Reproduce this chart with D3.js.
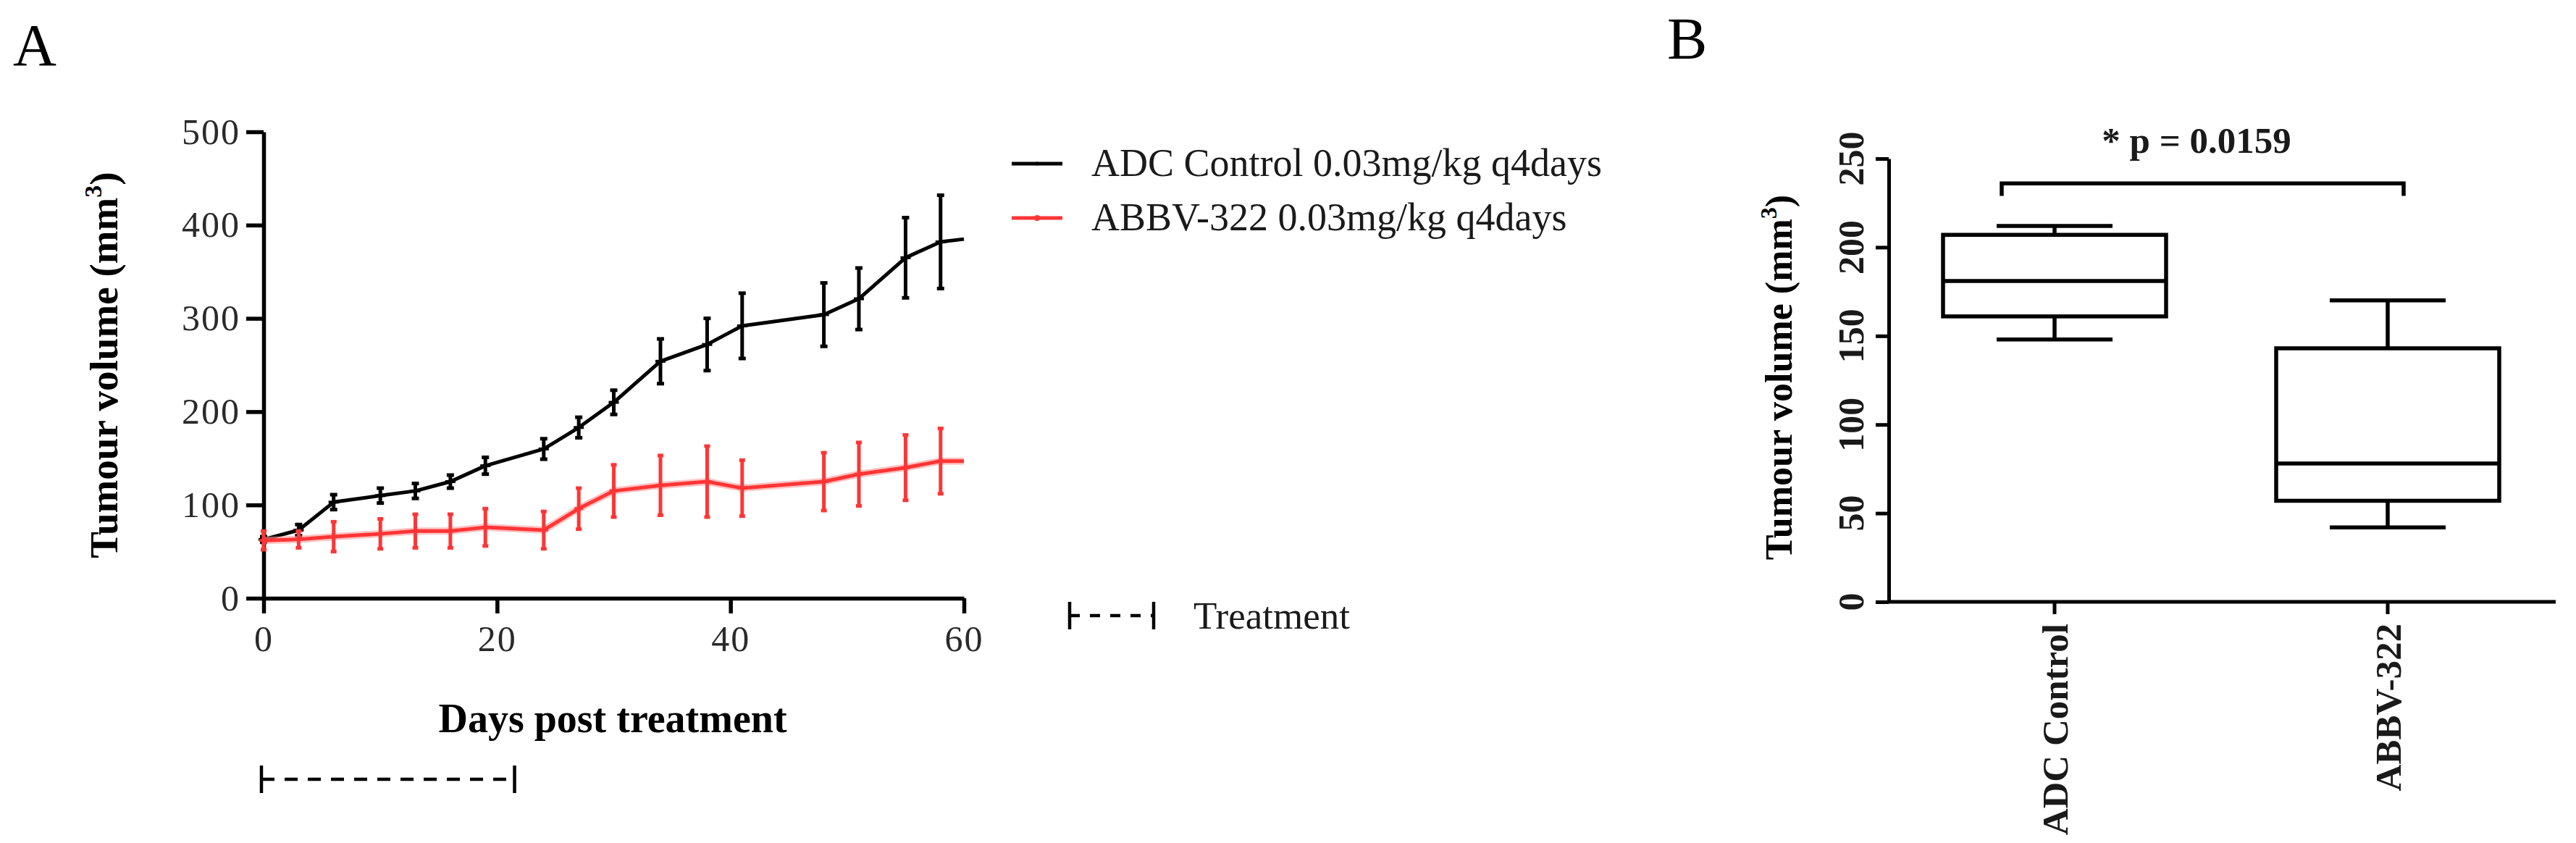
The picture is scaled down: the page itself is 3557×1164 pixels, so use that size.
<!DOCTYPE html>
<html><head><meta charset="utf-8">
<script src="https://cdn.jsdelivr.net/npm/d3@7"></script>
<style>body{margin:0;background:#fff} svg{display:block}</style>
</head><body>
<svg id="c" width="3557" height="1164"></svg>
<script>
// ---------- Panel A data ----------
const days      = [0, 3, 6, 10, 13, 16, 19, 24, 27, 30, 34, 38, 41, 48, 51, 55, 58, 60];
const adcMean   = [63, 73, 103, 110, 115, 125, 142, 160, 183, 210, 254, 272, 292, 304, 321, 365, 382, 385];
const adcErr    = [3, 6, 8, 8, 8, 7, 9, 11, 11, 13, 24, 28, 35, 34, 33, 43, 50, 0];
const abbvMean  = [62, 63, 66, 69, 72, 72, 76, 73, 96, 115, 121, 125, 118, 125, 133, 140, 147, 147];
const abbvErr   = [10, 9, 16, 16, 18, 18, 20, 20, 22, 28, 32, 38, 30, 31, 34, 35, 35, 0];
const yTicksA   = [0, 100, 200, 300, 400, 500];
const xTicksA   = [0, 20, 40, 60];
const treatmentDays = [0, 21.5];
const seriesNames = ["ADC Control 0.03mg/kg q4days", "ABBV-322 0.03mg/kg q4days"];
// ---------- Panel B data ----------
const boxCats = ["ADC Control", "ABBV-322"];
const boxMin  = [148, 42];
const boxQ1   = [161, 57];
const boxMed  = [181, 78];
const boxQ3   = [207, 143];
const boxMax  = [212, 170];
const yTicksB = [0, 50, 100, 150, 200, 250];
const pLabel  = "* p = 0.0159";
const bracketTop = 236, bracketFoot = 229;

const RED = "#ff3535";
const FONT = "'Liberation Serif','Times New Roman',serif";
const svg = d3.select("#c").style("font-family", FONT);

// ================= PANEL A =================
const xA = d3.scaleLinear().domain([0, 60]).range([364, 1331]);
const yA = d3.scaleLinear().domain([0, 500]).range([826, 182]);

svg.append("text").attr("x", 18).attr("y", 90).attr("font-size", 83).text("A");

const gyA = svg.append("g").attr("transform", `translate(${xA(0)},0)`)
  .call(d3.axisLeft(yA).tickValues(yTicksA).tickSize(24).tickSizeOuter(0).tickPadding(8));
const gxA = svg.append("g").attr("transform", `translate(0,${yA(0)})`)
  .call(d3.axisBottom(xA).tickValues(xTicksA).tickSize(21).tickSizeOuter(0).tickPadding(16));
[gyA, gxA].forEach(g => {
  g.select(".domain").attr("stroke", "#000").attr("stroke-width", 5.5);
  g.selectAll(".tick line").attr("stroke", "#000").attr("stroke-width", 5.5);
  g.selectAll(".tick text").attr("font-family", FONT).attr("font-size", 50)
    .attr("fill", "#2a2a2a").attr("letter-spacing", 2);
});

// y title
const tyA = svg.append("text").attr("transform", `translate(162,504) rotate(-90)`)
  .attr("text-anchor", "middle").attr("font-size", 55).attr("font-weight", "bold");
tyA.append("tspan").text("Tumour volume (mm");
tyA.append("tspan").attr("font-size", 34).attr("dy", -22).text("3");
tyA.append("tspan").attr("dy", 22).text(")");

svg.append("text").attr("x", 846).attr("y", 1011).attr("text-anchor", "middle")
  .attr("font-size", 56).attr("font-weight", "bold").text("Days post treatment");

// series
function drawSeries(means, errs, color, capW, lw) {
  const pts = days.map((d, i) => ({ d, m: means[i], e: errs[i] }));
  const line = d3.line().x(p => xA(p.d)).y(p => yA(p.m));
  const g = svg.append("g");
  if (color === RED) {
    g.append("path").attr("d", line(pts)).attr("fill", "none")
      .attr("stroke", "#ff9a9a").attr("stroke-width", 10).attr("stroke-opacity", 0.6);
  }
  g.append("path").attr("d", line(pts)).attr("fill", "none")
    .attr("stroke", color).attr("stroke-width", lw).attr("stroke-linejoin", "round");
  const eb = g.selectAll("g.eb").data(pts.filter(p => p.e > 0)).join("g");
  eb.append("line").attr("x1", p => xA(p.d)).attr("x2", p => xA(p.d))
    .attr("y1", p => yA(p.m + p.e)).attr("y2", p => yA(p.m - p.e))
    .attr("stroke", color).attr("stroke-width", 5);
  [1, -1].forEach(s => {
    eb.append("line").attr("x1", p => xA(p.d) - capW).attr("x2", p => xA(p.d) + capW)
      .attr("y1", p => yA(p.m + s * p.e)).attr("y2", p => yA(p.m + s * p.e))
      .attr("stroke", color).attr("stroke-width", 5);
  });
  eb.append("line").attr("x1", p => xA(p.d) - capW - 2).attr("x2", p => xA(p.d) + capW + 2)
    .attr("y1", p => yA(p.m)).attr("y2", p => yA(p.m))
    .attr("stroke", color).attr("stroke-width", 4);
}
drawSeries(adcMean, adcErr, "#000", 5, 5);
drawSeries(abbvMean, abbvErr, RED, 4, 5);

// legend
const legY = [226, 301];
const legColors = ["#000", RED];
seriesNames.forEach((n, i) => {
  svg.append("line").attr("x1", 1397).attr("x2", 1467).attr("y1", legY[i]).attr("y2", legY[i])
    .attr("stroke", legColors[i]).attr("stroke-width", 5);
  svg.append("circle").attr("cx", 1432).attr("cy", legY[i]).attr("r", i ? 4 : 2.5)
    .attr("fill", legColors[i]);
  svg.append("text").attr("x", 1507).attr("y", legY[i] + 17).attr("font-size", 54)
    .attr("fill", "#1a1a1a").text(n);
});

// treatment bars
function treatBar(x1, x2, y, dash) {
  svg.append("line").attr("x1", x1).attr("x2", x2).attr("y1", y).attr("y2", y)
    .attr("stroke", "#000").attr("stroke-width", 4.5).attr("stroke-dasharray", dash);
  [x1, x2].forEach(x => svg.append("line").attr("x1", x).attr("x2", x)
    .attr("y1", y - 19).attr("y2", y + 19).attr("stroke", "#000").attr("stroke-width", 4.5));
}
treatBar(1477, 1593, 850, "14,14");
svg.append("text").attr("x", 1648).attr("y", 868).attr("font-size", 53).attr("fill", "#1a1a1a").text("Treatment");
treatBar(xA(treatmentDays[0]) - 3, xA(treatmentDays[1]), 1076, "18,14");

// ================= PANEL B =================
svg.append("text").attr("x", 2302).attr("y", 81).attr("font-size", 83).text("B");

const yB = d3.scaleLinear().domain([0, 250]).range([831, 219]);
const xB = d3.scalePoint().domain(boxCats).range([2837, 3297]);
const axX = 2608;

const gyB = svg.append("g").attr("transform", `translate(${axX},0)`)
  .call(d3.axisLeft(yB).tickValues(yTicksB).tickSize(18).tickSizeOuter(0).tickFormat(""));
gyB.select(".domain").attr("stroke", "#000").attr("stroke-width", 5);
gyB.selectAll(".tick line").attr("stroke", "#000").attr("stroke-width", 5);

svg.append("g").selectAll("text").data(yTicksB).join("text")
  .attr("transform", d => `translate(2555,${yB(d)}) rotate(-90)`)
  .attr("text-anchor", "middle").attr("dy", "0.35em").attr("font-size", 50)
  .attr("font-weight", "bold").attr("fill", "#1a1a1a").text(d => d);

svg.append("line").attr("x1", axX).attr("x2", 3529).attr("y1", yB(0)).attr("y2", yB(0))
  .attr("stroke", "#000").attr("stroke-width", 5);
svg.append("g").selectAll("line").data(boxCats).join("line")
  .attr("x1", d => xB(d)).attr("x2", d => xB(d)).attr("y1", yB(0)).attr("y2", yB(0) + 17)
  .attr("stroke", "#000").attr("stroke-width", 5);
svg.append("g").selectAll("text").data(boxCats).join("text")
  .attr("transform", d => `translate(${xB(d)},861) rotate(-90)`)
  .attr("text-anchor", "end").attr("dy", "0.35em").attr("font-size", 51)
  .attr("font-weight", "bold").attr("fill", "#1a1a1a").text(d => d);

const tyB = svg.append("text").attr("transform", `translate(2474,521) rotate(-90)`)
  .attr("text-anchor", "middle").attr("font-size", 52).attr("font-weight", "bold");
tyB.append("tspan").text("Tumour volume (mm");
tyB.append("tspan").attr("font-size", 32).attr("dy", -21).text("3");
tyB.append("tspan").attr("dy", 21).text(")");

const boxW = 308, capB = 80;
boxCats.forEach((c, i) => {
  const cx = xB(c);
  const g = svg.append("g").attr("stroke", "#000").attr("stroke-width", 5.5).attr("fill", "none");
  g.append("rect").attr("x", cx - boxW / 2).attr("width", boxW)
    .attr("y", yB(boxQ3[i])).attr("height", yB(boxQ1[i]) - yB(boxQ3[i]));
  g.append("line").attr("x1", cx - boxW / 2).attr("x2", cx + boxW / 2)
    .attr("y1", yB(boxMed[i])).attr("y2", yB(boxMed[i]));
  g.append("line").attr("x1", cx).attr("x2", cx).attr("y1", yB(boxQ3[i])).attr("y2", yB(boxMax[i]));
  g.append("line").attr("x1", cx).attr("x2", cx).attr("y1", yB(boxQ1[i])).attr("y2", yB(boxMin[i]));
  g.append("line").attr("x1", cx - capB).attr("x2", cx + capB).attr("y1", yB(boxMax[i])).attr("y2", yB(boxMax[i]));
  g.append("line").attr("x1", cx - capB).attr("x2", cx + capB).attr("y1", yB(boxMin[i])).attr("y2", yB(boxMin[i]));
});

// significance bracket
const bx1 = xB(boxCats[0]) - 73, bx2 = xB(boxCats[1]) + 22;
svg.append("path")
  .attr("d", `M${bx1},${yB(bracketFoot)}V${yB(bracketTop)}H${bx2}V${yB(bracketFoot)}`)
  .attr("fill", "none").attr("stroke", "#000").attr("stroke-width", 5.5);
svg.append("text").attr("x", 3033).attr("y", 211).attr("text-anchor", "middle")
  .attr("font-size", 51).attr("font-weight", "bold").attr("fill", "#1a1a1a").text(pLabel);
</script>
</body></html>
